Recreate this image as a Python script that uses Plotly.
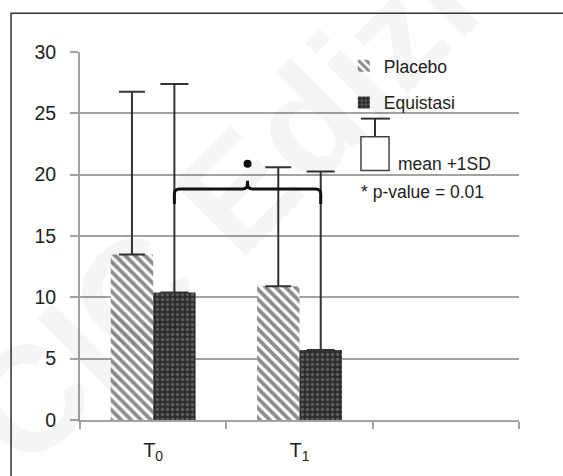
import plotly.graph_objects as go

# ---- data ----
categories = [0, 1, 2]
tick_labels = ["T<sub>0</sub>", "T<sub>1</sub>", ""]
placebo_mean = [13.5, 10.9]
placebo_sd = [13.25, 9.7]
equistasi_mean = [10.4, 5.7]
equistasi_sd = [17.0, 14.55]
bracket_level = 18.84
bracket_drop = 17.6
bracket_peak = 19.5
star_level = 20.9
y_ticks = [0, 5, 10, 15, 20, 25, 30]
watermark = "CIC Edizioni"

GRID = "#a3a3a3"
TXT = "#222222"
FONT = "Liberation Sans, Arial, sans-serif"
BARGAP = 0.42

fig = go.Figure()
fig.add_trace(go.Bar(
    x=categories[:2], y=placebo_mean, name="Placebo",
    marker=dict(color="white", line=dict(width=0),
                pattern=dict(shape="\\", fgcolor="#1a1a1a", bgcolor="white", size=7, solidity=0.55)),
    error_y=dict(type="data", array=placebo_sd, arrayminus=[0, 0], symmetric=False,
                 color="#333333", thickness=2, width=13),
    legendgroup="p",
))
fig.add_trace(go.Bar(
    x=categories[:2], y=equistasi_mean, name="Equistasi",
    marker=dict(color="#333333", line=dict(width=0),
                pattern=dict(shape=".", fgcolor="#8c8c8c", bgcolor="#2e2e2e", size=5, solidity=0.35)),
    error_y=dict(type="data", array=equistasi_sd, arrayminus=[0, 0], symmetric=False,
                 color="#333333", thickness=2, width=14),
    legendgroup="e",
))

# significance bracket between the two Equistasi bars
off = (1 - BARGAP) / 4
xL = categories[0] + off
xR = categories[1] + off
xm = (xL + xR) / 2
r = 0.035
ry = 0.4
path = (f"M {xL},{bracket_drop} L {xL},{bracket_level - ry} "
        f"Q {xL},{bracket_level} {xL + r},{bracket_level} "
        f"L {xm - r},{bracket_level} Q {xm},{bracket_level} {xm},{bracket_level + ry} "
        f"L {xm},{bracket_peak} M {xm},{bracket_level + ry} "
        f"Q {xm},{bracket_level} {xm + r},{bracket_level} "
        f"L {xR - r},{bracket_level} Q {xR},{bracket_level} {xR},{bracket_level - ry} "
        f"L {xR},{bracket_drop}")
fig.add_shape(type="path", path=path, xref="x", yref="y",
              line=dict(color="#111111", width=3), fillcolor="rgba(0,0,0,0)")
fig.add_trace(go.Scatter(x=[xm], y=[star_level], mode="markers",
                         marker=dict(color="#111111", size=8, symbol="circle"),
                         showlegend=False, hoverinfo="skip"))

# custom legend entry: mean + 1SD icon
fig.add_shape(type="rect", xref="paper", yref="paper", x0=0.640, x1=0.704, y0=0.678, y1=0.770,
              line=dict(color="#444444", width=1.5), fillcolor="white")
fig.add_shape(type="line", xref="paper", yref="paper", x0=0.672, x1=0.672, y0=0.770, y1=0.819,
              line=dict(color="#333333", width=2))
fig.add_shape(type="line", xref="paper", yref="paper", x0=0.640, x1=0.706, y0=0.819, y1=0.819,
              line=dict(color="#333333", width=2))
fig.add_annotation(text="mean +1SD", xref="paper", yref="paper", x=0.720, y=0.696,
                   xanchor="left", yanchor="middle", showarrow=False,
                   font=dict(size=17.5, color=TXT, family=FONT))
fig.add_annotation(text="* p-value = 0.01", xref="paper", yref="paper", x=0.636, y=0.620,
                   xanchor="left", yanchor="middle", showarrow=False,
                   font=dict(size=17.5, color=TXT, family=FONT))

# faint diagonal watermark
fig.add_annotation(text=f"<b>{watermark}</b>", xref="paper", yref="paper", x=0.50, y=0.79,
                   xanchor="center", yanchor="middle", showarrow=False, textangle=-45,
                   font=dict(size=150, color="rgba(0,0,0,0.04)", family=FONT))

# outer frame
fig.add_shape(type="rect", xref="paper", yref="paper", x0=-0.157, x1=1.2, y0=-0.3, y1=1.105,
              line=dict(color="#333333", width=1.5), fillcolor="rgba(0,0,0,0)", layer="below")

fig.update_layout(
    width=563, height=476,
    margin=dict(l=80, r=44, t=52, b=53),
    paper_bgcolor="white", plot_bgcolor="white",
    font=dict(family=FONT, color=TXT),
    barmode="group", bargap=BARGAP, bargroupgap=0,
    showlegend=True,
    legend=dict(x=0.601, y=1.011, xanchor="left", yanchor="top",
                font=dict(size=17.5, color=TXT, family=FONT),
                traceorder="grouped", tracegroupgap=11, bgcolor="rgba(0,0,0,0)"),
    xaxis=dict(range=[-0.5, 2.5], tickmode="array", tickvals=categories, ticktext=tick_labels,
               ticks="", showgrid=False, zeroline=False, showline=True, linecolor=GRID, linewidth=2,
               tickfont=dict(size=20, color=TXT), ticklabelstandoff=11,
               minor=dict(tickmode="array", tickvals=[-0.5, 0.5, 1.5, 2.5], ticks="outside",
                          ticklen=7, tickwidth=2, tickcolor=GRID, showgrid=False)),
    yaxis=dict(range=[0, 30], tickmode="array", tickvals=y_ticks,
               showgrid=True, gridcolor=GRID, gridwidth=2, zeroline=False,
               showline=True, linecolor=GRID, linewidth=2,
               ticks="outside", ticklen=8, tickwidth=2, tickcolor=GRID,
               tickfont=dict(size=19.5, color=TXT), ticklabelstandoff=10),
)

fig.write_html("out.html", config={"displayModeBar": False},
               post_script="document.body.style.margin='0px';")
